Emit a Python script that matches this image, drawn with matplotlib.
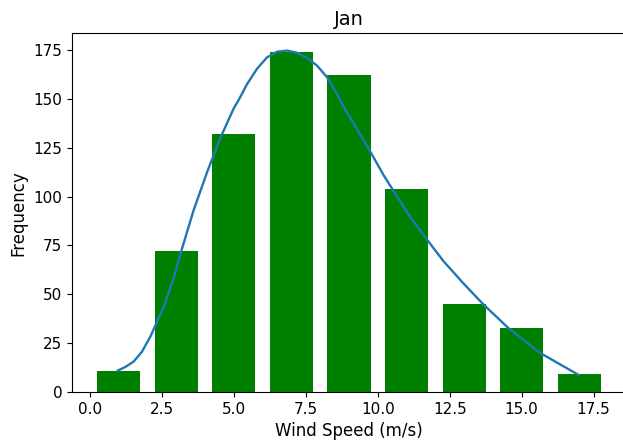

"""Histogramme des vitesses de vent (janvier) avec courbe ajustée."""

import matplotlib
matplotlib.use("Agg")
from matplotlib import pyplot

# effectifs par classe de 2 m/s
bornes = [0, 2, 4, 6, 8, 10, 12, 14, 16, 18]
centres = [1, 3, 5, 7, 9, 11, 13, 15, 17]
effectifs = [11, 72, 132, 174, 162, 104, 45, 33, 9]

# courbe
courbe_x = [0.97, 1.23, 1.52, 1.81, 2.10, 2.27, 2.56, 2.89, 3.14, 3.60,
            4.07, 4.53, 4.99, 5.17, 5.46, 5.81, 6.15, 6.50, 6.85, 7.19,
            7.54, 7.89, 8.24, 8.58, 8.81, 9.28, 9.74, 10.20, 10.67, 11.13,
            11.71, 12.28, 12.98, 13.67, 14.54, 15.64, 16.97]
courbe_y = [11.0, 12.8, 15.6, 20.7, 28.4, 34.0, 43.5, 57.5, 70.5, 93.0,
            112.5, 130.0, 145.0, 149.5, 157.6, 165.5, 171.2, 174.1, 174.7,
            173.6, 171.0, 167.0, 161.0, 152.5, 146.0, 134.5, 123.0, 111.0,
            100.0, 89.5, 78.0, 67.0, 55.5, 44.8, 32.7, 20.0, 8.8]

fig = pyplot.figure(figsize=(6.23, 4.48), dpi=100)
ax = fig.add_axes([72 / 623, 56 / 448, 554 / 623, 358.5 / 448])

ax.hist(centres, bins=bornes, weights=effectifs, rwidth=0.75,
        color='green')
ax.plot(courbe_x, courbe_y, color='#1f77b4', linewidth=1.7)

ax.tick_params(labelsize=11)
ax.set_title('Jan', fontsize=14)
ax.set_xlabel('Wind Speed (m/s)', fontsize=12)
ax.set_ylabel('Frequency', fontsize=12)

fig.savefig('out.png', dpi=100)
pyplot.close()
